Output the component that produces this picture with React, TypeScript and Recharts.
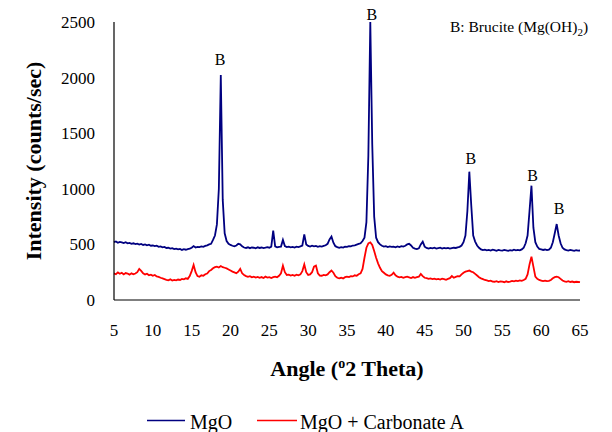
import { LineChart, Line, XAxis, YAxis, ReferenceDot } from "recharts";

// XRD スキャン: 5°〜65°、0.25° 刻み
const SCAN_START = 5;
const SCAN_STEP = 0.25;

// MgO (1行 = 1°分、.00/.25/.50/.75)
const MGO = [
  520, 526, 515, 522, // 5
  518, 512, 520, 510, // 6
  514, 505, 510, 502, // 7
  506, 498, 504, 495, // 8
  500, 492, 497, 488, // 9
  490, 484, 488, 478, // 10
  482, 474, 478, 468, // 11
  470, 462, 466, 458, // 12
  462, 455, 460, 450, // 13
  457, 452, 458, 462, // 14
  470, 485, 472, 478, // 15
  475, 482, 478, 486, // 16
  492, 500, 505, 540, // 17
  580, 680, 1000, 2023, // 18
  900, 600, 530, 505, // 19
  495, 488, 482, 490, // 20
  505, 500, 482, 472, // 21
  468, 474, 466, 472, // 22
  470, 465, 474, 468, // 23
  472, 466, 470, 475, // 24
  470, 480, 623, 482, // 25
  474, 478, 480, 540, // 26
  485, 476, 480, 474, // 27
  478, 472, 480, 476, // 28
  482, 490, 590, 500, // 29
  486, 480, 488, 482, // 30
  486, 478, 484, 480, // 31
  486, 492, 505, 545, // 32
  570, 515, 484, 476, // 33
  470, 476, 472, 480, // 34
  478, 485, 482, 490, // 35
  492, 498, 504, 510, // 36
  530, 560, 700, 1300, // 37
  2500, 1400, 750, 560, // 38
  520, 500, 488, 480, // 39
  484, 476, 482, 478, // 40
  480, 474, 482, 476, // 41
  484, 480, 488, 500, // 42
  505, 490, 470, 462, // 43
  458, 465, 500, 525, // 44
  480, 468, 462, 468, // 45
  464, 470, 462, 466, // 46
  470, 462, 468, 464, // 47
  468, 462, 466, 470, // 48
  468, 474, 478, 490, // 49
  520, 580, 800, 1154, // 50
  850, 580, 525, 490, // 51
  470, 455, 448, 452, // 52
  446, 450, 444, 452, // 53
  448, 442, 450, 446, // 54
  444, 450, 446, 442, // 55
  448, 444, 452, 446, // 56
  450, 446, 455, 470, // 57
  510, 580, 800, 1028, // 58
  650, 520, 480, 460, // 59
  455, 450, 454, 448, // 60
  452, 470, 520, 600, // 61
  683, 580, 510, 470, // 62
  455, 448, 444, 450, // 63
  446, 442, 448, 444, // 64
  445, // 65
];

// MgO + Carbonate A
const MGO_CARBONATE = [
  240, 232, 248, 236, // 5
  245, 230, 242, 238, // 6
  228, 240, 232, 238, // 7
  250, 280, 262, 240, // 8
  230, 236, 222, 228, // 9
  218, 225, 212, 208, // 10
  200, 194, 188, 182, // 11
  178, 186, 175, 180, // 12
  176, 184, 180, 190, // 13
  186, 195, 190, 215, // 14
  260, 315, 250, 215, // 15
  210, 222, 218, 232, // 16
  238, 260, 270, 285, // 17
  295, 300, 292, 305, // 18
  295, 290, 284, 275, // 19
  265, 255, 248, 240, // 20
  255, 280, 240, 225, // 21
  215, 208, 214, 204, // 22
  210, 202, 208, 200, // 23
  206, 198, 210, 202, // 24
  205, 198, 206, 210, // 25
  204, 218, 240, 309, // 26
  250, 225, 228, 220, // 27
  226, 218, 228, 222, // 28
  230, 260, 320, 250, // 29
  225, 230, 250, 300, // 30
  309, 240, 220, 218, // 31
  225, 222, 230, 250, // 32
  265, 245, 215, 200, // 33
  195, 200, 194, 205, // 34
  210, 206, 215, 212, // 35
  222, 218, 232, 240, // 36
  280, 380, 470, 510, // 37
  519, 495, 440, 380, // 38
  330, 290, 260, 245, // 39
  230, 222, 218, 226, // 40
  245, 222, 210, 204, // 41
  208, 200, 206, 210, // 42
  204, 198, 206, 200, // 43
  205, 210, 235, 215, // 44
  200, 196, 190, 194, // 45
  188, 192, 186, 190, // 46
  184, 192, 188, 182, // 47
  190, 196, 215, 200, // 48
  208, 214, 212, 230, // 49
  245, 255, 260, 265, // 50
  255, 250, 235, 220, // 51
  205, 195, 188, 180, // 52
  176, 170, 174, 166, // 53
  164, 170, 162, 168, // 54
  165, 160, 168, 162, // 55
  166, 172, 168, 174, // 56
  170, 176, 172, 180, // 57
  190, 230, 320, 390, // 58
  300, 210, 190, 180, // 59
  175, 170, 174, 170, // 60
  172, 180, 195, 205, // 61
  210, 205, 190, 175, // 62
  168, 164, 170, 162, // 63
  166, 160, 164, 162, // 64
  160, // 65
];

// "B" (brucite) ラベルの位置（角度, 強度）
const BRUCITE_ANGLES = [18.65, 38.2, 50.95, 58.9, 62.3];
const BRUCITE_LABEL_Y = [2165, 2570, 1275, 1125, 825];

const X_TICKS = [5, 10, 15, 20, 25, 30, 35, 40, 45, 50, 55, 60, 65];
const Y_TICKS = [0, 500, 1000, 1500, 2000, 2500];

const ANGLES = MGO.map((_, i) => SCAN_START + i * SCAN_STEP);
const rows = ANGLES.map((angle, i) => ({
  angle,
  mgo: MGO[i],
  carb: MGO_CARBONATE[i],
}));

const FONT = "Liberation Serif";
const NAVY = "#000080";
const RED = "#ff0000";

function XTitle() {
  return (
    <text x={347} y={376} textAnchor="middle" style={{ fontFamily: FONT }} fontSize={22} fontWeight="bold" fill="#000">
      Angle (<tspan fontSize={14} dy={-8}>o</tspan>
      <tspan dy={8}>2 Theta)</tspan>
    </text>
  );
}

function YTitle() {
  return (
    <text
      transform="translate(41,161) rotate(-90)"
      textAnchor="middle"
      style={{ fontFamily: FONT }}
      fontSize={22}
      fontWeight="bold"
      fill="#000"
    >
      Intensity (counts/sec)
    </text>
  );
}

export default function App() {
  return (
    <div style={{ position: "relative", width: 612, height: 432, background: "#fff", fontFamily: FONT }}>
      <style>{"body{margin:0} .recharts-wrapper text{font-family:'Liberation Serif',serif}"}</style>
      <LineChart
        width={612}
        height={432}
        data={rows}
        margin={{ top: 22, right: 32, bottom: 102, left: 0 }}
      >
        <XAxis
          dataKey="angle"
          type="number"
          domain={[5, 65]}
          ticks={X_TICKS}
          interval={0}
          height={30}
          tickLine={false}
          tickSize={0}
          tickMargin={24}
          axisLine={{ stroke: "#000", strokeWidth: 1.2 }}
          tick={{ fontSize: 17, fill: "#000" }}
          label={<XTitle />}
        />
        <YAxis
          type="number"
          domain={[0, 2500]}
          ticks={Y_TICKS}
          interval={0}
          width={114}
          tickLine={false}
          tickSize={0}
          tickMargin={19}
          axisLine={{ stroke: "#000", strokeWidth: 1.2 }}
          tick={{ fontSize: 17, fill: "#000" }}
          label={<YTitle />}
        />
        <Line
          type="linear"
          dataKey="carb"
          name="MgO + Carbonate A"
          stroke={RED}
          strokeWidth={1.8}
          dot={false}
          isAnimationActive={false}
        />
        <Line
          type="linear"
          dataKey="mgo"
          name="MgO"
          stroke={NAVY}
          strokeWidth={1.8}
          dot={false}
          isAnimationActive={false}
        />
        {BRUCITE_ANGLES.map((a, i) => (
          <ReferenceDot
            key={a}
            x={a}
            y={BRUCITE_LABEL_Y[i]}
            r={0}
            stroke="none"
            fill="none"
            ifOverflow="visible"
            label={{ value: "B", position: "center", fontSize: 16, fill: "#000" }}
          />
        ))}
      </LineChart>

      {/* 注記と凡例は重ねた SVG で描く */}
      <svg
        width={612}
        height={432}
        style={{ position: "absolute", left: 0, top: 0, pointerEvents: "none", fontFamily: FONT }}
      >
        <text x={450} y={32} fontSize={15.5} fill="#000">
          B: Brucite (Mg(OH)<tspan fontSize={11} dy={4}>2</tspan>
          <tspan dy={-4}>)</tspan>
        </text>
        <line x1={147} x2={185} y1={420.5} y2={420.5} stroke={NAVY} strokeWidth={1.5} />
        <text x={190} y={429} fontSize={20} fill="#000">MgO</text>
        <line x1={257} x2={297} y1={420.5} y2={420.5} stroke={RED} strokeWidth={1.5} />
        <text x={300} y={429} fontSize={20} fill="#000">MgO + Carbonate A</text>
      </svg>
    </div>
  );
}
